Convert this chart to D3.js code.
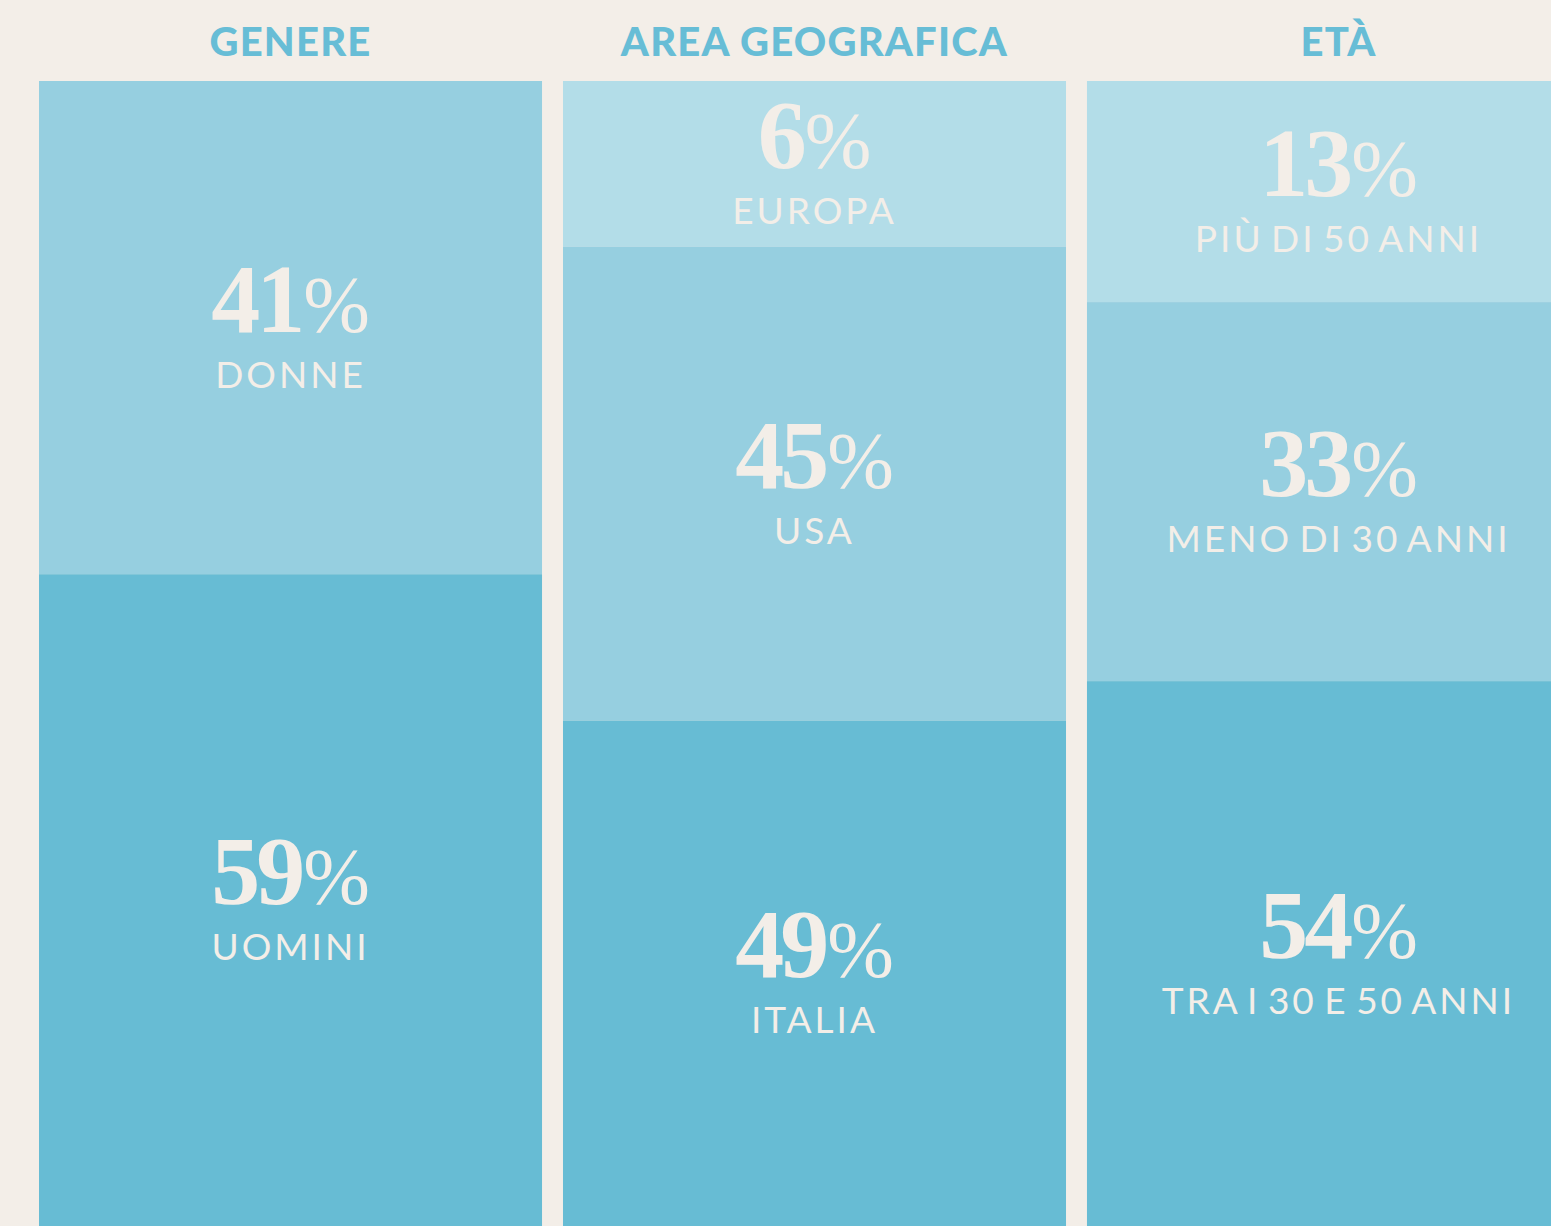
<!DOCTYPE html>
<html>

<head>
  <title>Genere, area geografica, età</title>
  <style>
    body { margin: 0; background: #f3eee8; }
  </style>
</head>

<body>
  <svg id="chart"></svg>

  <script src="https://d3js.org/d3.v7.min.js"></script>
  <script>
    // column titles
    const groups = ["GENERE", "AREA GEOGRAFICA", "ETÀ"];

    // segments of each column, top to bottom
    const genereLabels = ["DONNE", "UOMINI"];
    const genereValues = [41, 59];

    const areaLabels = ["EUROPA", "USA", "ITALIA"];
    const areaValues = [6, 45, 49];

    const etaLabels = ["PIÙ DI 50 ANNI", "MENO DI 30 ANNI", "TRA I 30 E 50 ANNI"];
    const etaValues = [13, 33, 54];

    const columns = [
      { group: groups[0], labels: genereLabels, values: genereValues },
      { group: groups[1], labels: areaLabels, values: areaValues },
      { group: groups[2], labels: etaLabels, values: etaValues }
    ];

    let width = 1551, height = 1226;
    let margin = { top: 81, left: 39 };
    let labelRoom = 15; // extra share every segment gets so small ones keep room for their text

    // colours from the bottom segment upwards
    let shades = ["#67bcd4", "#96cfe0", "#b3dde8"];
    let cream = "#f3eee8";

    const svg = d3.select("#chart")
      .attr("width", width)
      .attr("height", height);

    svg.append("rect")
      .attr("width", width)
      .attr("height", height)
      .attr("fill", cream);

    const xScale = d3.scaleBand()
      .domain(groups)
      .range([margin.left, margin.left + 3 * 524 - 21])
      .paddingInner(0.04)
      .paddingOuter(0);

    // column titles
    svg.selectAll(".title")
      .data(columns)
      .join("text")
      .attr("class", "title")
      .attr("x", d => xScale(d.group) + xScale.bandwidth() / 2)
      .attr("y", 56)
      .attr("text-anchor", "middle")
      .attr("font-family", "Lato, sans-serif")
      .attr("font-weight", 900)
      .attr("font-size", 40)
      .attr("letter-spacing", 1.2)
      .attr("fill", "#67bdd6")
      .text(d => d.group);

    columns.forEach(col => {
      let n = col.values.length;
      let weights = col.values.map(v => v + labelRoom);
      let yScale = d3.scaleLinear()
        .domain([0, d3.sum(weights)])
        .range([margin.top, height]);

      let acc = 0;
      let segs = col.values.map((v, i) => {
        let s = { value: v, label: col.labels[i], start: acc, end: acc + weights[i], rank: n - 1 - i };
        acc += weights[i];
        return s;
      });

      let g = svg.append("g");

      g.selectAll("rect")
        .data(segs)
        .join("rect")
        .attr("x", xScale(col.group))
        .attr("y", d => yScale(d.start))
        .attr("width", xScale.bandwidth())
        .attr("height", d => yScale(d.end) - yScale(d.start))
        .attr("fill", d => shades[d.rank]);

      let cx = xScale(col.group) + xScale.bandwidth() / 2;

      let num = g.selectAll(".num")
        .data(segs)
        .join("text")
        .attr("class", "num")
        .attr("x", cx)
        .attr("y", d => (yScale(d.start) + yScale(d.end)) / 2 + 4)
        .attr("text-anchor", "middle")
        .attr("font-family", "'Liberation Serif', serif")
        .attr("fill", cream);

      num.append("tspan")
        .attr("font-weight", 700)
        .attr("font-size", 98)
        .attr("letter-spacing", -4)
        .text(d => d.value);

      num.append("tspan")
        .attr("font-weight", 400)
        .attr("font-size", 80)
        .attr("dx", 2)
        .text("%");

      g.selectAll(".lab")
        .data(segs)
        .join("text")
        .attr("class", "lab")
        .attr("x", cx)
        .attr("y", d => (yScale(d.start) + yScale(d.end)) / 2 + 60)
        .attr("text-anchor", "middle")
        .attr("font-family", "Lato, sans-serif")
        .attr("font-weight", 400)
        .attr("font-size", 37)
        .attr("letter-spacing", 3)
        .attr("word-spacing", -5)
        .attr("fill", cream)
        .text(d => d.label);
    });
  </script>
</body>

</html>
